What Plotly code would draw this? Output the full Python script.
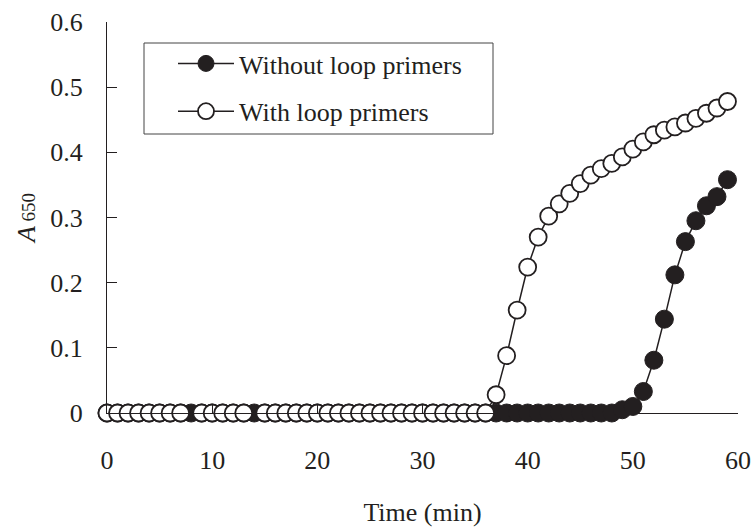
import plotly.graph_objects as go

# Time points (min)
time_without = list(range(0, 60))
a650_without = [0.0] * 49 + [0.005, 0.010, 0.033, 0.081, 0.144, 0.212, 0.263, 0.295, 0.318, 0.332, 0.358]

time_with = list(range(0, 8)) + list(range(9, 14)) + list(range(15, 60))
a650_with = [0.0] * 35 + [0.028, 0.088, 0.158, 0.224, 0.270, 0.302, 0.321, 0.337, 0.352, 0.365,
                          0.375, 0.383, 0.393, 0.405, 0.416, 0.427, 0.434, 0.439, 0.445, 0.452,
                          0.460, 0.468, 0.478]

x_ticks = [0, 10, 20, 30, 40, 50, 60]
y_ticks = [0, 0.1, 0.2, 0.3, 0.4, 0.5, 0.6]
y_tick_text = ["0", "0.1", "0.2", "0.3", "0.4", "0.5", "0.6"]

INK = "#231f20"
FONT = "Liberation Serif"

W, H = 752, 527
ML, MR, MT, MB = 107, 14, 22, 114
PW, PH = W - ML - MR, H - MT - MB


def px_x(p):
    return (p - ML) / PW


def px_y(p):
    return (H - MB - p) / PH


fig = go.Figure()
fig.add_trace(go.Scatter(
    x=time_without, y=a650_without, mode="lines+markers", name="Without loop primers",
    legendgroup="a",
    line=dict(color=INK, width=1.5),
    marker=dict(symbol="circle", size=18, color=INK, line=dict(color=INK, width=1)),
    cliponaxis=False,
))
fig.add_trace(go.Scatter(
    x=time_with, y=a650_with, mode="lines+markers", name="With loop primers",
    legendgroup="b",
    line=dict(color=INK, width=1.5),
    marker=dict(symbol="circle", size=17, color="white", line=dict(color=INK, width=1.8)),
    cliponaxis=False,
))

# legend frame
fig.add_shape(type="rect", xref="paper", yref="paper",
              x0=px_x(144), x1=px_x(493), y0=px_y(134), y1=px_y(43),
              line=dict(color="#444", width=1), fillcolor="white", layer="below")

fig.update_layout(
    width=W, height=H,
    margin=dict(l=ML, r=MR, t=MT, b=MB, autoexpand=False),
    paper_bgcolor="white", plot_bgcolor="white",
    font=dict(family=FONT, size=26, color=INK),
    showlegend=True,
    legend=dict(
        x=px_x(173), y=px_y(40), xanchor="left", yanchor="top",
        borderwidth=0, bgcolor="rgba(0,0,0,0)",
        font=dict(family=FONT, size=26, color=INK),
        itemwidth=56, tracegroupgap=11,
    ),
    xaxis=dict(
        range=[0, 60], tickvals=x_ticks, ticks="inside", ticklen=9, tickcolor=INK,
        showline=True, linecolor=INK, linewidth=1, showgrid=False, zeroline=False,
        ticklabelstandoff=24, automargin=False,
        title=dict(text="Time (min)", font=dict(family=FONT, size=26, color=INK), standoff=30),
    ),
    yaxis=dict(
        range=[0, 0.6], tickvals=y_ticks, ticktext=y_tick_text, ticks="inside", ticklen=10,
        tickcolor=INK, showline=True, linecolor=INK, linewidth=1, showgrid=False, zeroline=False,
        ticklabelstandoff=18, automargin=False,
        title=dict(text="<i>A</i><span style='font-size:19px'> 650</span>",
                   font=dict(family=FONT, size=26, color=INK), standoff=7),
    ),
)

fig.write_html("out.html")
